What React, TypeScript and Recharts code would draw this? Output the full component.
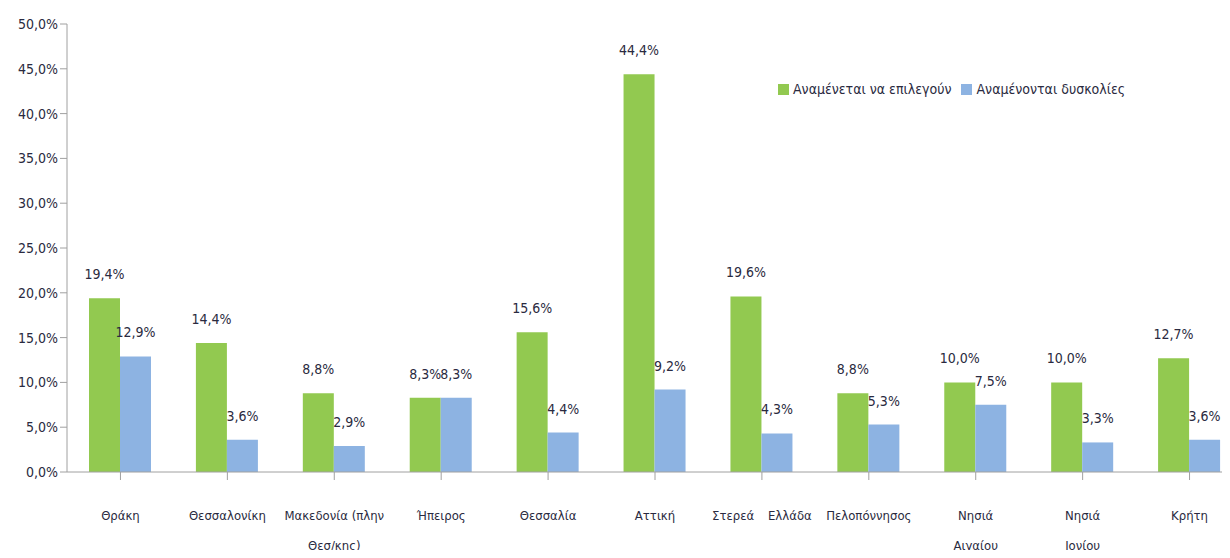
import React from 'react';
import { BarChart, Bar, XAxis, YAxis, Legend, LabelList } from 'recharts';

const regions = [
  'Θράκη',
  'Θεσσαλονίκη',
  'Μακεδονία (πλην|Θεσ/κης)',
  'Ήπειρος',
  'Θεσσαλία',
  'Αττική',
  'Στερεά Ελλάδα',
  'Πελοπόννησος',
  'Νησιά|Αιγαίου',
  'Νησιά|Ιονίου',
  'Κρήτη',
];
const expectedChosen = [19.4, 14.4, 8.8, 8.3, 15.6, 44.4, 19.6, 8.8, 10.0, 10.0, 12.7];
const expectedDifficulties = [12.9, 3.6, 2.9, 8.3, 4.4, 9.2, 4.3, 5.3, 7.5, 3.3, 3.6];
const yTicks = [0, 5, 10, 15, 20, 25, 30, 35, 40, 45, 50];

const data = regions.map((region, i) => ({
  region,
  chosen: expectedChosen[i],
  difficulties: expectedDifficulties[i],
}));

const FONT = "'DejaVu Sans Condensed', 'Liberation Sans Narrow', sans-serif";
const TEXT = '#2a2a40';
const GREEN = '#92c950';
const BLUE = '#8db3e2';

const pct = (v: number) => `${v.toFixed(1).replace('.', ',')}%`;

function RegionTick(props: any) {
  const { x, y, payload } = props;
  const lines: string[] = String(payload.value).split('|');
  const wide = payload.value === 'Στερεά Ελλάδα';
  return (
    <text
      x={x}
      y={y}
      textAnchor="middle"
      fill={TEXT}
      fontSize={13}
      fontFamily={FONT}
      style={wide ? { wordSpacing: 10 } : undefined}
    >
      {lines.map((l, i) => (
        <tspan key={i} x={x} dy={i === 0 ? 38 : 30}>
          {l}
        </tspan>
      ))}
    </text>
  );
}

function LegendBox(props: any) {
  const items: any[] = props.payload || [];
  return (
    <div style={{ display: 'flex', alignItems: 'center', gap: 10, fontFamily: FONT, fontSize: 14, color: TEXT, whiteSpace: 'nowrap' }}>
      {items.map((it) => (
        <span key={it.value} style={{ display: 'flex', alignItems: 'center', gap: 4 }}>
          <span style={{ width: 11, height: 11, background: it.color, display: 'inline-block' }} />
          {it.value}
        </span>
      ))}
    </div>
  );
}

export default function App() {
  return (
    <div style={{ margin: -8, width: 1230, height: 558, overflow: 'hidden', background: '#fff' }}>
      <BarChart
        width={1250}
        height={558}
        data={data}
        margin={{ top: 24, right: 7, bottom: 0, left: 0 }}
        barGap={0}
      >
        <XAxis
          dataKey="region"
          height={86}
          interval={0}
          stroke="#a0a0a0"
          tickSize={8}
          tickLine={{ stroke: '#a0a0a0' }}
          tick={<RegionTick />}
        />
        <YAxis
          width={67}
          domain={[0, 50]}
          ticks={yTicks}
          interval={0}
          stroke="#a0a0a0"
          tickSize={7}
          tickFormatter={pct}
          tick={{ fill: TEXT, fontSize: 14, fontFamily: FONT }}
        />
        <Legend
          layout="horizontal"
          verticalAlign="middle"
          align="center"
          content={<LegendBox />}
          wrapperStyle={{ position: 'absolute', top: 81, left: 778, width: 420 }}
        />
        <Bar dataKey="chosen" name="Αναμένεται να επιλεγούν" fill={GREEN} barSize={31} isAnimationActive={false}>
          <LabelList
            dataKey="chosen"
            position="top"
            offset={19}
            formatter={(v: number) => pct(v)}
            style={{ fill: TEXT, fontSize: 14, fontFamily: FONT }}
          />
        </Bar>
        <Bar dataKey="difficulties" name="Αναμένονται δυσκολίες" fill={BLUE} barSize={31} isAnimationActive={false}>
          <LabelList
            dataKey="difficulties"
            position="top"
            offset={19}
            formatter={(v: number) => pct(v)}
            style={{ fill: TEXT, fontSize: 14, fontFamily: FONT }}
          />
        </Bar>
      </BarChart>
    </div>
  );
}
